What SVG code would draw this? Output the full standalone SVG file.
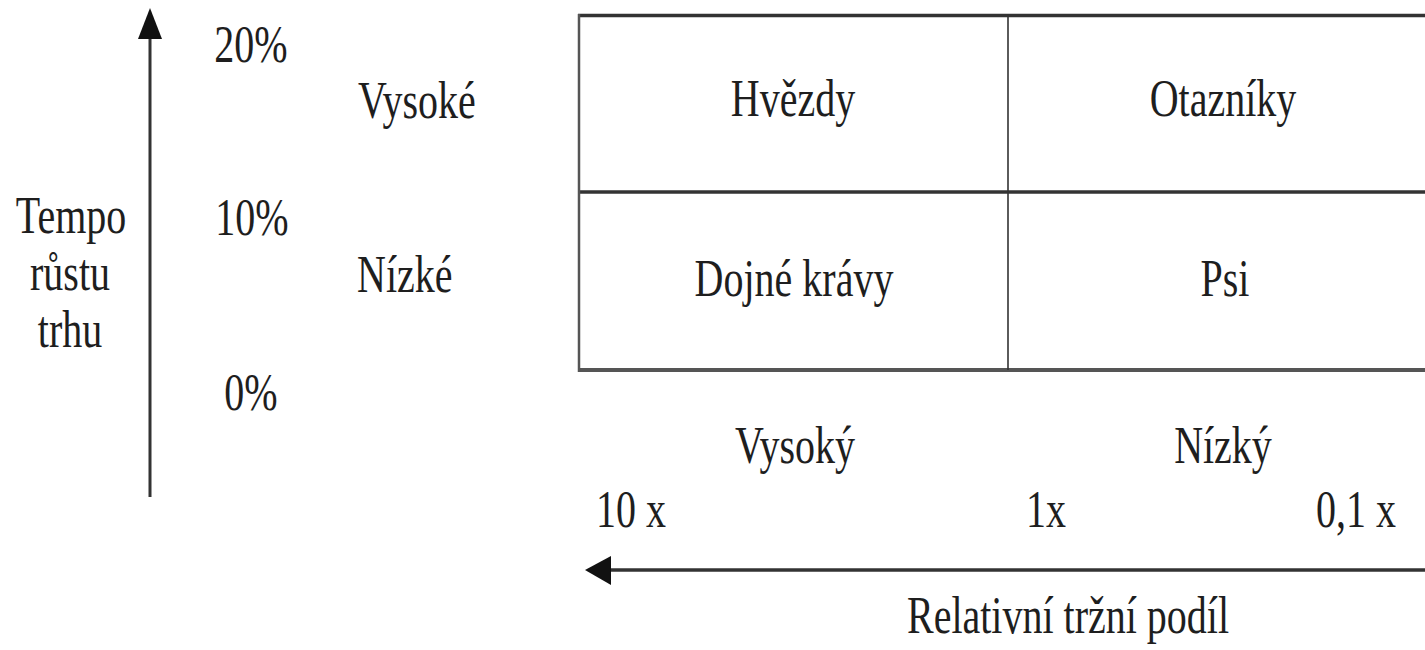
<svg xmlns="http://www.w3.org/2000/svg" width="1425" height="650" viewBox="0 0 1425 650">
<style>
.t{font-family:"Liberation Serif","Times New Roman",serif;font-size:40px;fill:#1e1e1e}
.m{text-anchor:middle}
.ln{stroke:#333;fill:none}
</style>
<defs>
<marker id="ah" markerUnits="userSpaceOnUse" viewBox="0 0 30 26" refX="0" refY="13" markerWidth="30" markerHeight="26" orient="auto-start-reverse">
<path d="M0,0 L30,13 L0,26 Z" fill="#111"/>
</marker>
</defs>
<rect width="1425" height="650" fill="#fff"/>
<g id="connectors">
<line id="growth-axis" class="ln" x1="150" y1="497" x2="150" y2="38" stroke-width="3" stroke="#333"/>
<path d="M150,8 L138,39 L162,39 Z" fill="#111"/>
<line id="share-axis" class="ln" x1="1425" y1="570" x2="611" y2="570" stroke-width="3.5"/>
<path d="M585,570 L611,556 L611,585 Z" fill="#111"/>
</g>
<g id="matrix">
<line class="ln" x1="578" y1="15.5" x2="1425" y2="15.5" stroke-width="3.5"/>
<line class="ln" x1="578" y1="192" x2="1425" y2="192" stroke-width="3.5"/>
<line x1="578" y1="370" x2="1425" y2="370" stroke="#555" stroke-width="4"/>
<line x1="579" y1="14" x2="579" y2="372" stroke="#555" stroke-width="2.5"/>
<line class="ln" x1="1008" y1="15" x2="1008" y2="370" stroke-width="1.6"/>
</g>
<g id="node-hvezdy"><text class="t m" transform="translate(793,116) scale(1,1.3)">Hvězdy</text></g>
<g id="node-otazniky"><text class="t m" transform="translate(1223,116) scale(1,1.3)">Otazníky</text></g>
<g id="node-dojne-kravy"><text class="t m" transform="translate(794,296) scale(1,1.3)">Dojné krávy</text></g>
<g id="node-psi"><text class="t m" transform="translate(1225,296) scale(1,1.3)">Psi</text></g>
<g id="y-labels">
<text class="t m" transform="translate(71,233) scale(1,1.3)">Tempo</text>
<text class="t m" transform="translate(70,290) scale(1,1.3)">růstu</text>
<text class="t m" transform="translate(70,347) scale(1,1.3)">trhu</text>
<text class="t m" transform="translate(251,62) scale(1,1.3)">20%</text>
<text class="t m" transform="translate(252,235) scale(1,1.3)">10%</text>
<text class="t m" transform="translate(251,410) scale(1,1.3)">0%</text>
<text class="t" transform="translate(358,118) scale(1,1.3)">Vysoké</text>
<text class="t" transform="translate(357,292) scale(1,1.3)">Nízké</text>
</g>
<g id="x-labels">
<text class="t m" transform="translate(795,463) scale(1,1.3)">Vysoký</text>
<text class="t m" transform="translate(1223,463) scale(1,1.3)">Nízký</text>
<text class="t" transform="translate(596,527) scale(1,1.3)">10 x</text>
<text class="t" transform="translate(1026,527) scale(1,1.3)">1x</text>
<text class="t" transform="translate(1316,527) scale(1,1.3)">0,1 x</text>
<text class="t m" transform="translate(1068,633) scale(1,1.3)">Relativní tržní podíl</text>
</g>
</svg>
